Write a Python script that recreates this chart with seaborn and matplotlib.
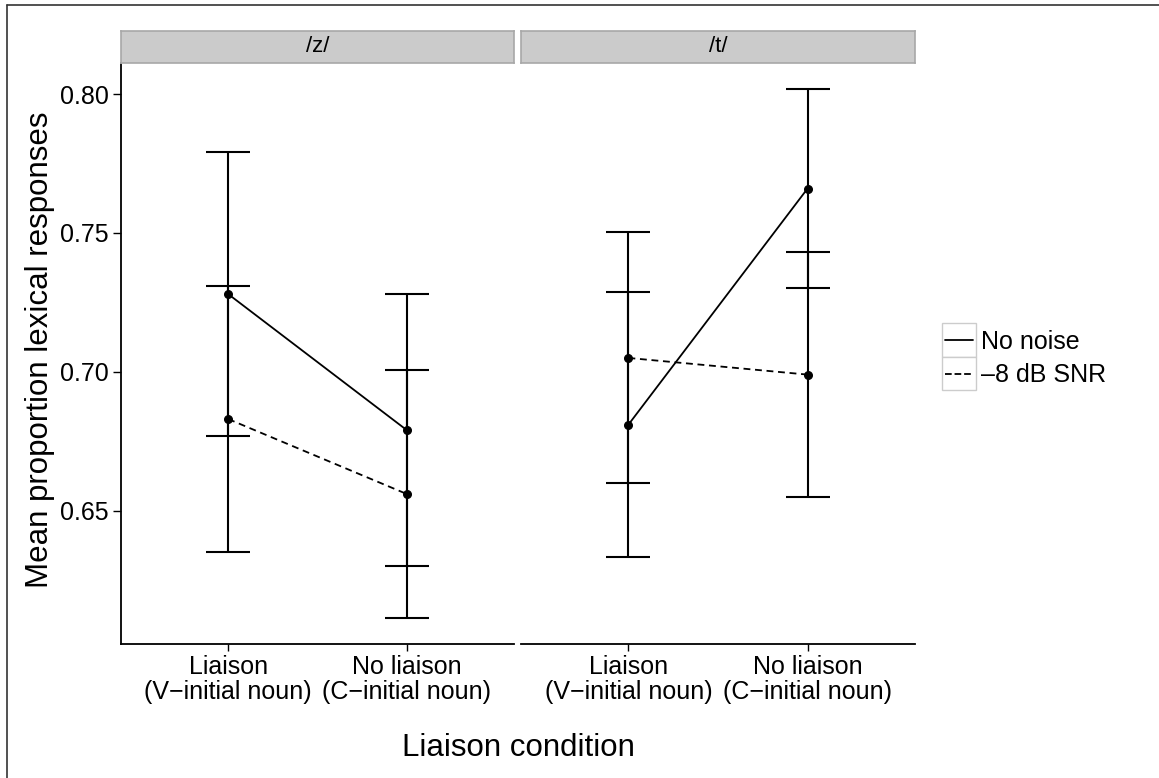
import numpy as np
import pandas as pd
import matplotlib
matplotlib.use("Agg")
import matplotlib.pyplot as plt
import seaborn as sns
from matplotlib.lines import Line2D
from matplotlib.patches import Rectangle
from matplotlib.legend_handler import HandlerBase

# ---------------- data ----------------
panels = ["/z/", "/t/"]
conditions = ["Liaison\n(V\u2212initial noun)", "No liaison\n(C\u2212initial noun)"]
noise_levels = ["No noise", "\u20138 dB SNR"]

# means [Liaison, No liaison]
z_no_noise = [0.728, 0.679]
z_snr = [0.683, 0.656]
t_no_noise = [0.681, 0.766]
t_snr = [0.705, 0.699]

# half-widths of error bars
z_no_noise_err = [0.051, 0.049]
z_snr_err = [0.048, 0.0445]
t_no_noise_err = [0.0476, 0.0357]
t_snr_err = [0.0452, 0.044]

y_ticks = [0.65, 0.70, 0.75, 0.80]

rows = []
for panel, series in zip(panels, [[(z_no_noise, z_no_noise_err), (z_snr, z_snr_err)],
                                  [(t_no_noise, t_no_noise_err), (t_snr, t_snr_err)]]):
    for noise, (means, errs) in zip(noise_levels, series):
        for cond, m, e in zip(conditions, means, errs):
            rows.append(dict(panel=panel, condition=cond, noise=noise, mean=m, err=e))
df = pd.DataFrame(rows)

# ---------------- style ----------------
sns.set_theme(style="white")
plt.rcParams["font.family"] = ["Liberation Sans", "DejaVu Sans"]
plt.rcParams["text.color"] = "black"

W, H = 1159, 778
fig = plt.figure(figsize=(W / 100, H / 100), dpi=100)
fig.patch.set_facecolor("white")

def fx(px):
    return px / W

def fy(py):
    return 1 - py / H

panel_left = [121, 521]
panel_right = [514, 915]
panel_top, panel_bottom = 63, 644
strip_top = 31

ymin = df.assign(lo=df["mean"] - df["err"])["lo"].min()
ymax = df.assign(hi=df["mean"] + df["err"])["hi"].max()
span = ymax - ymin
ylim = (ymin - 0.05 * span, ymax + 0.05 * span)

linestyles = ["-", (0, (3.8, 2.6))]

axes = []
for i, panel in enumerate(panels):
    ax = fig.add_axes([fx(panel_left[i]), fy(panel_bottom),
                       fx(panel_right[i] - panel_left[i]), (panel_bottom - panel_top) / H])
    axes.append(ax)
    sub = df[df["panel"] == panel]
    # error bars
    for noise in noise_levels:
        s = sub[sub["noise"] == noise].set_index("condition").loc[conditions]
        xpos = np.arange(len(conditions))
        ax.errorbar(xpos, s["mean"].values, yerr=s["err"].values, fmt="none",
                    ecolor="black", elinewidth=1.5, capsize=16, capthick=1.5, zorder=1)
    sns.pointplot(data=sub, x="condition", y="mean", hue="noise",
                  order=conditions, hue_order=noise_levels,
                  palette=["black", "black"], markers=["o", "o"],
                  linestyles=linestyles, errorbar=None, dodge=False,
                  linewidth=1.3, markersize=5.5, legend=False, ax=ax)
    ax.set_xlim(-0.6, 1.6)
    ax.set_ylim(*ylim)
    ax.set_xlabel("")
    ax.set_ylabel("")
    for side in ["top", "right"]:
        ax.spines[side].set_visible(False)
    ax.spines["bottom"].set_color("black")
    ax.spines["bottom"].set_linewidth(1.3)
    ax.tick_params(axis="x", bottom=True, length=5, width=1.0, color="black",
                   labelsize=18, pad=3, labelcolor="black")
    for lab in ax.get_xticklabels():
        lab.set_linespacing(1.05)
    if i == 0:
        ax.spines["left"].set_color("black")
        ax.spines["left"].set_linewidth(1.3)
        ax.set_yticks(y_ticks)
        ax.set_yticklabels([f"{v:.2f}" for v in y_ticks])
        ax.tick_params(axis="y", left=True, length=6, width=1.0, color="black",
                       labelsize=18, pad=3, labelcolor="black")
    else:
        ax.spines["left"].set_visible(False)
        ax.set_yticks([])
    # strip
    sax = fig.add_axes([fx(panel_left[i]), fy(panel_top),
                        fx(panel_right[i] - panel_left[i]), (panel_top - strip_top) / H])
    sax.set_xticks([]); sax.set_yticks([])
    sax.set_facecolor("#CBCBCB")
    for sp in sax.spines.values():
        sp.set_color("#A8A8A8")
        sp.set_linewidth(1.2)
    sax.text(0.5, 0.5, panel, ha="center", va="center", fontsize=16,
             transform=sax.transAxes, color="black")

# axis titles
fig.text(fx(40), fy((panel_top + panel_bottom) / 2 - 4), "Mean proportion lexical responses",
         rotation=90, ha="center", va="center", fontsize=22.5, color="black")
fig.text(fx((panel_left[0] + panel_right[1]) / 2), fy(748), "Liaison condition",
         ha="center", va="center", fontsize=22.5, color="black")

# legend with boxed keys
class BoxLineHandler(HandlerBase):
    def create_artists(self, legend, orig_handle, xdescent, ydescent,
                       width, height, fontsize, trans):
        pad_y = 4
        rect = Rectangle((-xdescent, -ydescent - pad_y), width, height + 2 * pad_y,
                         facecolor="white", edgecolor="#CCCCCC", linewidth=1.0,
                         transform=trans)
        yc = -ydescent + height / 2
        line = Line2D([-xdescent + 2, -xdescent + width - 2], [yc, yc],
                      linestyle=orig_handle.get_linestyle(), color="black",
                      linewidth=1.3, transform=trans)
        return [rect, line]

handles = [Line2D([], [], color="black", linestyle=ls, linewidth=1.3) for ls in linestyles]
leg = fig.legend(handles, noise_levels, loc="center left",
                 bbox_to_anchor=(fx(942), fy(358)), frameon=False, fontsize=18,
                 handler_map={Line2D: BoxLineHandler()}, handlelength=1.36,
                 handleheight=1.0, labelspacing=0.35, handletextpad=0.2,
                 borderpad=0, borderaxespad=0)
for t in leg.get_texts():
    t.set_color("black")

# outer frame lines (top and left)
fig.add_artist(Line2D([fx(7), 1], [fy(4.5), fy(4.5)], transform=fig.transFigure,
                      color="#333333", linewidth=1.2))
fig.add_artist(Line2D([fx(7), fx(7)], [0, fy(4.5)], transform=fig.transFigure,
                      color="#333333", linewidth=1.2))

fig.savefig("out.png", dpi=100, facecolor="white")
